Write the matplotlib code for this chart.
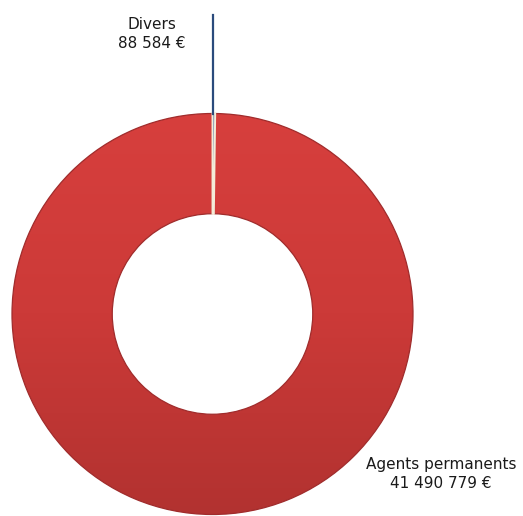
import numpy as np
import matplotlib.pyplot as plt
from matplotlib.colors import LinearSegmentedColormap

# budget split
categories = ["Divers", "Agents permanents"]
amounts = [88584, 41490779]
colors = ["#4A6FA5", "#CF3B3B"]


def fmt_euro(v):
    return f"{v:,}".replace(",", " ") + " €"


W, H = 523, 516
fig = plt.figure(figsize=(W / 100, H / 100), dpi=100)
ax = fig.add_axes([0, 0, 1, 1])

cx, cy, r = 212.5, 314, 200.5

# y axis runs downward (pixel-like), so -90 is the top of the ring
wedges, _ = ax.pie(
    amounts,
    colors=colors,
    startangle=-90,
    counterclock=True,
    center=(cx, cy),
    radius=r,
    wedgeprops=dict(width=r * 0.5, edgecolor="#A02C2C", linewidth=0.9),
    frame=True,
)

# soft top-to-bottom shading on the big slice
shade = LinearSegmentedColormap.from_list("shade", ["#D73F3D", "#CC3A38", "#B23230"])
grad = np.linspace(0, 1, 256).reshape(-1, 1)
img = ax.imshow(grad, cmap=shade, extent=(cx - r, cx + r, cy + r, cy - r),
                aspect="auto", zorder=2)
img.set_clip_path(wedges[1])
wedges[1].set_zorder(2.5)
wedges[1].set_facecolor("none")

# the thin slice gets a pale outline so it shows as a separator
wedges[0].set_edgecolor("#F4EBD8")
wedges[0].set_linewidth(1.4)
wedges[0].set_zorder(3)

ax.set_xlim(0, W)
ax.set_ylim(H, 0)
ax.set_aspect("equal")
ax.axis("off")

# leader line for the small slice
ax.plot([cx + 0.5, cx + 0.5], [cy - r, 15], color="#2B4B7C", lw=1.6, zorder=4)

ax.text(152, 34, f"{categories[0]}\n{fmt_euro(amounts[0])}", ha="center",
        va="center", fontsize=11, family="DejaVu Sans", linespacing=1.3,
        color="#1A1A1A")
ax.text(441, 474, f"{categories[1]}\n{fmt_euro(amounts[1])}", ha="center",
        va="center", fontsize=11, family="DejaVu Sans", linespacing=1.25,
        color="#1A1A1A")

fig.savefig("out.png", dpi=100)
